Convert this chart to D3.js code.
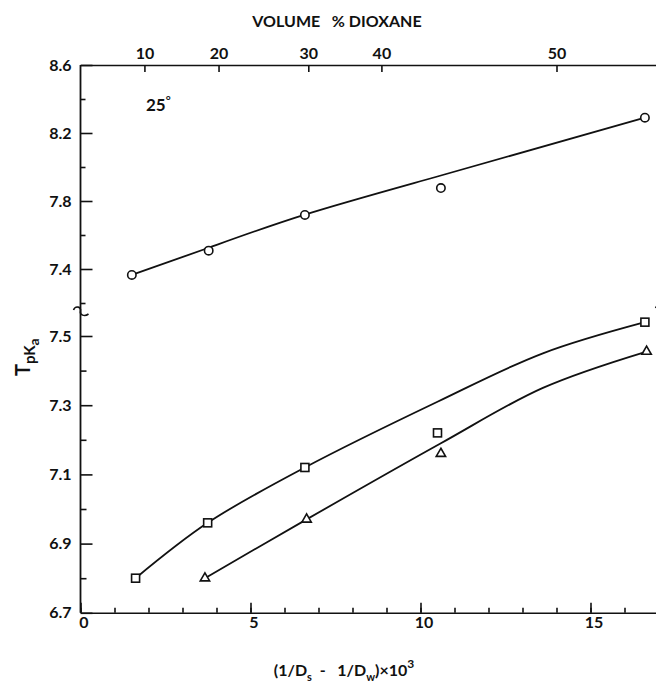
<!DOCTYPE html>
<html>
<head>
<meta charset="utf-8">
<script src="https://cdn.jsdelivr.net/npm/d3@7"></script>
<style>
  body { margin: 0; background: #fff; }
  text { font-family: "Lato", "DejaVu Sans", sans-serif; font-weight: 700; fill: #111; }
  .axis path, .axis line { stroke: #111; stroke-width: 1.6; }
</style>
</head>
<body>
<script>

// points, x = (1/Ds - 1/Dw)*10^3
var circX = [1.51, 3.77, 6.6, 10.6, 16.6],
    circY = [7.365, 7.508, 7.718, 7.876, 8.29],
    sqX = [1.62, 3.74, 6.6, 10.5, 16.6],
    sqY = [6.80, 6.96, 7.12, 7.22, 7.54],
    triX = [3.66, 6.65, 10.6, 16.65],
    triY = [6.80, 6.97, 7.16, 7.455];

// hand drawn curves
var circFitX = [1.51, 3.77, 6.6, 10.6, 16.6],
    circFitY = [7.365, 7.525, 7.72, 7.95, 8.29],
    sqFitX = [1.62, 3.74, 6.6, 10.5, 13.6, 16.6],
    sqFitY = [6.80, 6.96, 7.12, 7.31, 7.45, 7.54],
    triFitX = [3.66, 6.65, 10.6, 13.6, 16.65],
    triFitY = [6.80, 6.97, 7.19, 7.35, 7.455];

// top axis: volume % dioxane at positions of the bottom scale
var dioxanePct = [10, 20, 30, 40, 50],
    dioxaneAt = [1.88, 4.06, 6.7, 8.85, 14.0];

var xMajor = [0, 5, 10, 15],
    xMinor = d3.range(0, 18),
    upMajor = [8.6, 8.2, 7.8, 7.4],
    upMinor = [8.4, 8.0, 7.6, 7.2],
    lowMajor = [7.5, 7.3, 7.1, 6.9, 6.7],
    lowMinor = [7.4, 7.2, 7.0, 6.8];

var width = 656, height = 686;

var x = d3.scaleLinear().domain([0, 17.2]).range([80.5, 80.5 + 17.2 * 34]);
var yUp = d3.scaleLinear().domain([7.15, 8.6]).range([65 + 1.45 * 170, 65]);
var yLow = d3.scaleLinear().domain([6.7, 7.5]).range([612.8, 336]);

var svg = d3.select("body").append("svg")
    .attr("width", width)
    .attr("height", height);

// left axis line, continuous
svg.append("line")
    .attr("x1", x(0)).attr("x2", x(0))
    .attr("y1", yUp(8.6)).attr("y2", yLow(6.7))
    .attr("stroke", "#111").attr("stroke-width", 1.8);

// upper y ticks
svg.append("g").attr("class", "axis")
    .attr("transform", "translate(" + x(0) + ",0)")
    .call(d3.axisLeft(yUp).tickValues(upMajor).tickSizeInner(-12).tickSizeOuter(0).tickPadding(9).tickFormat(d3.format(".1f")))
    .call(function(g) { g.select(".domain").remove(); })
    .selectAll("text").style("font-size", "16px").attr("fill", "#111");

svg.append("g").attr("class", "axis")
    .attr("transform", "translate(" + x(0) + ",0)")
    .call(d3.axisLeft(yUp).tickValues(upMinor).tickSizeInner(-5).tickSizeOuter(0).tickFormat(""))
    .call(function(g) { g.select(".domain").remove(); });

// lower y ticks
svg.append("g").attr("class", "axis")
    .attr("transform", "translate(" + x(0) + ",0)")
    .call(d3.axisLeft(yLow).tickValues(lowMajor).tickSizeInner(-12).tickSizeOuter(0).tickPadding(9).tickFormat(d3.format(".1f")))
    .call(function(g) { g.select(".domain").remove(); })
    .selectAll("text").style("font-size", "16px");

svg.append("g").attr("class", "axis")
    .attr("transform", "translate(" + x(0) + ",0)")
    .call(d3.axisLeft(yLow).tickValues(lowMinor).tickSizeInner(-6).tickSizeOuter(0).tickFormat(""))
    .call(function(g) { g.select(".domain").remove(); });

// bottom axis
svg.append("g").attr("class", "axis")
    .attr("transform", "translate(0," + yLow(6.7) + ")")
    .call(d3.axisBottom(x).tickValues(xMinor).tickSizeInner(-5).tickSizeOuter(0).tickFormat(""));

svg.append("g").attr("class", "axis")
    .attr("transform", "translate(0," + yLow(6.7) + ")")
    .call(d3.axisBottom(x).tickValues(xMajor).tickSizeInner(-10).tickSizeOuter(0).tickPadding(4))
    .call(function(g) { g.select(".domain").remove(); })
    .selectAll("text").style("font-size", "16px").attr("dx", "3");

// top axis
svg.append("g").attr("class", "axis")
    .attr("transform", "translate(0," + yUp(8.6) + ")")
    .call(d3.axisTop(x).tickValues(dioxaneAt).tickSizeInner(-7).tickSizeOuter(0).tickPadding(6)
        .tickFormat(function(d, i) { return dioxanePct[i]; }))
    .selectAll("text").style("font-size", "16px");

svg.append("text")
    .attr("x", 337).attr("y", 27)
    .attr("text-anchor", "middle")
    .style("font-size", "16px")
    .style("white-space", "pre")
    .text("VOLUME   % DIOXANE");

// axis breaks
function squiggle(cx, cy) {
    svg.append("path")
        .attr("d", "M" + (cx - 7) + "," + (cy - 2) +
            " C" + (cx - 5) + "," + (cy - 7) + " " + (cx + 1) + "," + (cy - 5) + " " + cx + "," + (cy - 1) +
            " C" + (cx - 1) + "," + (cy + 3) + " " + (cx + 4) + "," + (cy + 5) + " " + (cx + 8) + "," + (cy + 2))
        .attr("fill", "none").attr("stroke", "#111").attr("stroke-width", 1.6);
}
squiggle(x(0), 312);
squiggle(x(17.12), 310);

// fitted curves
var lineUp = d3.line().x(function(d) { return x(d[0]); }).y(function(d) { return yUp(d[1]); }).curve(d3.curveNatural);
var lineLow = d3.line().x(function(d) { return x(d[0]); }).y(function(d) { return yLow(d[1]); }).curve(d3.curveCatmullRom.alpha(0.5));

svg.append("path").datum(d3.zip(circFitX, circFitY))
    .attr("d", lineUp).attr("fill", "none").attr("stroke", "#111").attr("stroke-width", 1.8);
svg.append("path").datum(d3.zip(sqFitX, sqFitY))
    .attr("d", lineLow).attr("fill", "none").attr("stroke", "#111").attr("stroke-width", 1.8);
svg.append("path").datum(d3.zip(triFitX, triFitY))
    .attr("d", lineLow).attr("fill", "none").attr("stroke", "#111").attr("stroke-width", 1.8);

// markers
svg.selectAll("circle.pt").data(d3.zip(circX, circY)).enter()
    .append("circle").attr("class", "pt")
    .attr("cx", function(d) { return x(d[0]); })
    .attr("cy", function(d) { return yUp(d[1]); })
    .attr("r", 4.2)
    .attr("fill", "#fff").attr("stroke", "#111").attr("stroke-width", 1.6);

svg.selectAll("rect.pt").data(d3.zip(sqX, sqY)).enter()
    .append("rect").attr("class", "pt")
    .attr("x", function(d) { return x(d[0]) - 4; })
    .attr("y", function(d) { return yLow(d[1]) - 4; })
    .attr("width", 8).attr("height", 8)
    .attr("fill", "#fff").attr("stroke", "#111").attr("stroke-width", 1.6);

var tri = d3.symbol().type(d3.symbolTriangle).size(38);
svg.selectAll("path.pt").data(d3.zip(triX, triY)).enter()
    .append("path").attr("class", "pt")
    .attr("d", tri)
    .attr("transform", function(d) { return "translate(" + x(d[0]) + "," + yLow(d[1]) + ")"; })
    .attr("fill", "#fff").attr("stroke", "#111").attr("stroke-width", 1.6);

// temperature note
var t25 = svg.append("text").attr("x", 146).attr("y", 111).style("font-size", "17px");
t25.append("tspan").text("25");
t25.append("tspan").attr("dy", -7).style("font-size", "12px").text("°");

// y title
var yt = svg.append("text")
    .attr("transform", "translate(30,376) rotate(-90)")
    .style("font-size", "20px");
yt.append("tspan").text("T");
yt.append("tspan").attr("dy", 5).style("font-size", "15px").text("pK");
yt.append("tspan").attr("dy", 4).style("font-size", "14px").text("a");

// x title
var xt = svg.append("text")
    .attr("x", 344).attr("y", 676)
    .attr("text-anchor", "middle")
    .style("font-size", "16px")
    .style("white-space", "pre");
xt.append("tspan").text("(1/D");
xt.append("tspan").attr("dy", 5).style("font-size", "11px").text("s");
xt.append("tspan").attr("dy", -5).text("  -   1/D");
xt.append("tspan").attr("dy", 5).style("font-size", "11px").text("w");
xt.append("tspan").attr("dy", -5).text(")\u00d710");
xt.append("tspan").attr("dy", -8).style("font-size", "12px").text("3");

</script>
</body>
</html>
